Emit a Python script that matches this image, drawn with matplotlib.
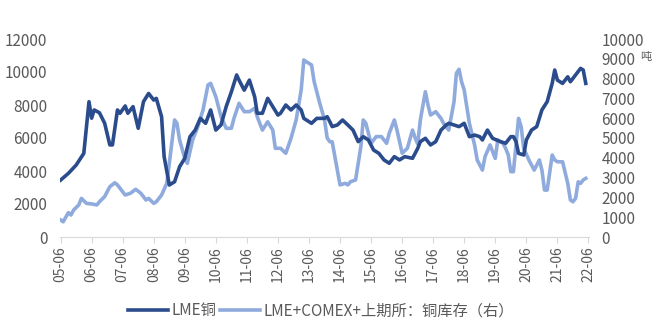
import matplotlib
matplotlib.use("Agg")
import matplotlib.pyplot as plt
import pandas as pd

plt.rcParams["font.family"] = ["Noto Sans CJK SC", "DejaVu Sans"]

# LME copper price (left axis)
price_dates = ["2005-06", "2005-09", "2005-12", "2006-03", "2006-05", "2006-06", "2006-07", "2006-09",
               "2006-11", "2007-01", "2007-02", "2007-04", "2007-05", "2007-07", "2007-08", "2007-10",
               "2007-12", "2008-02", "2008-04", "2008-06", "2008-07", "2008-09", "2008-10", "2008-12",
               "2009-02", "2009-04", "2009-06", "2009-08", "2009-10", "2009-12", "2010-02", "2010-04",
               "2010-06", "2010-08", "2010-10", "2010-12", "2011-02", "2011-03", "2011-05", "2011-07",
               "2011-09", "2011-10", "2011-12", "2012-02", "2012-04", "2012-06", "2012-07", "2012-09",
               "2012-11", "2013-01", "2013-03", "2013-04", "2013-07", "2013-09", "2013-12", "2014-01",
               "2014-02", "2014-03", "2014-05", "2014-07", "2014-09", "2014-11", "2015-01", "2015-03",
               "2015-05", "2015-07", "2015-09", "2015-11", "2016-01", "2016-03", "2016-05", "2016-07",
               "2016-10", "2016-12", "2017-01", "2017-03", "2017-05", "2017-07", "2017-09", "2017-11",
               "2017-12", "2018-02", "2018-04", "2018-06", "2018-08", "2018-10", "2018-12", "2019-01",
               "2019-03", "2019-05", "2019-08", "2019-10", "2019-12", "2020-01", "2020-02", "2020-03",
               "2020-05", "2020-06", "2020-08", "2020-10", "2020-12", "2021-02", "2021-04", "2021-05",
               "2021-06", "2021-08", "2021-10", "2021-11", "2022-01", "2022-03", "2022-04", "2022-05"]
price_vals = [3450, 3860, 4360, 5070, 8200, 7200, 7700, 7530,
              6900, 5580, 5580, 7700, 7500, 7940, 7500, 7900,
              6590, 8200, 8700, 8300, 8400, 7290, 4870, 3150,
              3350, 4260, 4770, 6080, 6480, 7190, 6890, 7700,
              6480, 6790, 7900, 8800, 9820, 9510, 8900, 9510,
              8500, 7500, 7500, 8400, 7900, 7390, 7500, 8000,
              7700, 8000, 7700, 7190, 6890, 7190, 7190, 7290,
              6990, 6690, 6790, 7090, 6790, 6480, 5780, 6080,
              5880, 5270, 5070, 4670, 4470, 4870, 4670, 4870,
              4770, 5370, 5780, 5980, 5580, 5780, 6480, 6790,
              6890, 6790, 6690, 6890, 6080, 6180, 6080, 5880,
              6480, 5980, 5780, 5680, 6080, 6080, 5780, 5070,
              4970, 5880, 6480, 6690, 7700, 8200, 9310, 10120,
              9510, 9310, 9710, 9410, 9820, 10220, 10120, 9310]

# LME+COMEX+SHFE copper stocks (right axis)
stock_dates = ["2005-06", "2005-07", "2005-09", "2005-10", "2005-11", "2006-01", "2006-02", "2006-04",
               "2006-06", "2006-08", "2006-09", "2006-11", "2007-01", "2007-03", "2007-04", "2007-07",
               "2007-09", "2007-11", "2008-01", "2008-03", "2008-04", "2008-06", "2008-07", "2008-09",
               "2008-11", "2008-12", "2009-02", "2009-03", "2009-04", "2009-06", "2009-07", "2009-09",
               "2009-11", "2010-01", "2010-03", "2010-04", "2010-06", "2010-08", "2010-10", "2010-12",
               "2011-01", "2011-03", "2011-05", "2011-07", "2011-09", "2011-10", "2011-12", "2012-02",
               "2012-04", "2012-05", "2012-07", "2012-09", "2012-11", "2013-01", "2013-03", "2013-04",
               "2013-05", "2013-07", "2013-08", "2013-10", "2013-12", "2014-01", "2014-02", "2014-03",
               "2014-05", "2014-06", "2014-08", "2014-09", "2014-10", "2014-12", "2015-02", "2015-03",
               "2015-04", "2015-06", "2015-08", "2015-10", "2015-12", "2016-01", "2016-03", "2016-04",
               "2016-06", "2016-08", "2016-10", "2016-11", "2016-12", "2017-01", "2017-03", "2017-04",
               "2017-05", "2017-07", "2017-09", "2017-10", "2017-12", "2018-02", "2018-03", "2018-04",
               "2018-05", "2018-06", "2018-08", "2018-10", "2018-11", "2019-01", "2019-02", "2019-04",
               "2019-06", "2019-07", "2019-09", "2019-10", "2019-11", "2019-12", "2020-01", "2020-03",
               "2020-04", "2020-05", "2020-07", "2020-09", "2020-11", "2020-12", "2021-01", "2021-02",
               "2021-04", "2021-05", "2021-06", "2021-08", "2021-10", "2021-11", "2021-12", "2022-01",
               "2022-02", "2022-03", "2022-04", "2022-05"]
stock_vals = [860, 770, 1230, 1110, 1360, 1620, 1950, 1700,
              1670, 1620, 1780, 2040, 2540, 2740, 2630, 2120,
              2210, 2410, 2210, 1870, 1950, 1700, 1780, 2120,
              2710, 3720, 5910, 5740, 4900, 3970, 3720, 4900,
              5570, 6410, 7680, 7760, 7090, 6080, 5490, 5490,
              6000, 6750, 6330, 6330, 6500, 6080, 5400, 5820,
              5400, 4480, 4480, 4230, 4980, 5910, 7420, 8940,
              8850, 8690, 7840, 6830, 5910, 5000, 4810, 4810,
              3380, 2630, 2710, 2630, 2790, 2880, 4560, 5910,
              5740, 4730, 5070, 5070, 4730, 5240, 5910, 5400,
              4230, 4480, 5400, 5000, 4700, 5910, 7340, 6670,
              6160, 6330, 5990, 5740, 5400, 6830, 8270, 8470,
              7840, 7420, 5740, 4650, 3890, 3380, 4060, 4650,
              3970, 4900, 4730, 4480, 4150, 3300, 3300, 5990,
              5570, 4480, 3890, 3380, 3890, 3380, 2370, 2370,
              4140, 3890, 3800, 3800, 2710, 1870, 1780, 1950,
              2790, 2710, 2880, 2960]

tick_dates = pd.date_range("2005-06-01", "2022-06-01", freq="12MS")
tick_labels = [d.strftime("%y-%m") for d in tick_dates]

dark = "#2B4C8C"
light = "#8FAADC"
grey = "#595959"

fig = plt.figure(figsize=(6.53, 3.36), dpi=100)
ax = fig.add_axes([60 / 653, 1 - 237 / 336, 529 / 653, 198 / 336])
ax2 = ax.twinx()

l1, = ax.plot(pd.to_datetime(price_dates), price_vals, color=dark, lw=2.6, solid_joinstyle="round")
l2, = ax2.plot(pd.to_datetime(stock_dates), stock_vals, color=light, lw=2.6, solid_joinstyle="round")
ax.set_zorder(ax2.get_zorder() + 1)
ax.patch.set_visible(False)

ax.set_ylim(0, 12000)
ax.set_yticks(range(0, 12001, 2000))
ax2.set_ylim(0, 10000)
ax2.set_yticks(range(0, 10001, 1000))
ax.set_xlim(pd.Timestamp("2005-05-25"), pd.Timestamp("2022-06-08"))
ax.set_xticks(tick_dates)
ax.set_xticklabels(tick_labels, rotation=90)

for a in (ax, ax2):
    for s in a.spines.values():
        s.set_visible(False)
ax.spines["bottom"].set_visible(True)
ax.spines["bottom"].set_color("#D9D9D9")
ax.tick_params(axis="x", colors="#D9D9D9", length=4, labelcolor=grey, labelsize=10, pad=3)
ax.tick_params(axis="y", length=0, labelcolor=grey, labelsize=11, pad=9)
ax2.tick_params(axis="y", length=0, labelcolor=grey, labelsize=11, pad=9)

# unit label next to the 9000 tick
fig.text(640 / 653, 1 - 57 / 336, "吨", fontsize=8, color=grey, va="center", ha="left")

fig.legend([l1, l2], ["LME铜", "LME+COMEX+上期所：铜库存（右）"], loc="center",
           bbox_to_anchor=(321 / 653, 1 - 311 / 336), ncol=2, frameon=False,
           fontsize=11, handlelength=2.6, handletextpad=0.2, columnspacing=0.3,
           labelcolor=grey)

fig.savefig("out.png", dpi=100)
